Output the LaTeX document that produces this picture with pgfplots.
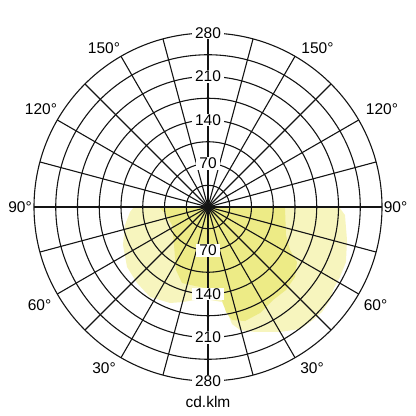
\documentclass[border=0pt]{standalone}
\usepackage{fontspec}
\setmainfont{Liberation Sans}
\usepackage{pgfplots}
\pgfplotsset{compat=1.18}
\definecolor{lightyel}{RGB}{247,245,190}
\definecolor{darkyel}{RGB}{237,235,134}
\definecolor{gridc}{RGB}{20,20,20}
\begin{document}
\begin{tikzpicture}[font=\fontsize{15.5bp}{18bp}\selectfont]
\path[use as bounding box] (0,0) rectangle (416bp,416bp);
\begin{axis}[at={(208bp,209bp)}, anchor=center,
  scale only axis, width=348bp, height=348bp,
  xmin=-280, xmax=280, ymin=-280, ymax=280,
  hide axis, clip=false]
% C0-C180 plane (outer, pale)
\addplot[fill=lightyel, draw=none] coordinates {
(-120.7,-2) (212.4,-2) (220.4,-12.9) (223.7,-53.1) (222.0,-88.5) (212.4,-112.6)
(202.7,-130.3) (196.3,-149.6) (183.4,-168.9) (168.9,-181.8) (148.0,-196.3)
(115.8,-201.1) (75.6,-201.1) (51.5,-197.9) (38.6,-188.3) (30.6,-168.9)
(22.5,-152.9) (3.2,-149.6) (-20.9,-149.6) (-40.2,-152.9) (-61.1,-154.5)
(-93.3,-144.8) (-114.2,-122.3) (-130.3,-96.5) (-136.8,-61.1) (-133.6,-29.0)
(-125.5,-8.0)} -- cycle;
% C90-C270 plane (inner, darker)
\addplot[fill=darkyel, draw=none] coordinates {
(-77.2,-2) (123.9,-2) (125.5,-45.1) (132.0,-69.2) (143.2,-88.5) (140.0,-112.6)
(125.5,-133.6) (104.6,-149.7) (83.7,-170.6) (59.5,-183.5) (38.6,-181.9)
(29.0,-169.0) (22.5,-149.7) (3.2,-132.0) (-20.9,-127.1) (-41.8,-122.3)
(-51.5,-101.4) (-54.7,-61.2) (-57.9,-29.0) (-69.2,-9.7)} -- cycle;
% grid
\pgfplotsinvokeforeach{35,70,105,140,175,210,245,280}{
  \draw[gridc, line width=1.1bp] (axis cs:0,0) circle[radius=#1];
}
\pgfplotsinvokeforeach{0,15,30,45,60,75,90,105,120,135,150,165}{
  \draw[gridc, line width=1.1bp] (axis cs:{-280*cos(#1)},{-280*sin(#1)}) -- (axis cs:{280*cos(#1)},{280*sin(#1)});
}
\fill[gridc] (axis cs:0,0) circle[radius=7];
% radial labels
\pgfplotsinvokeforeach{70,140,210,280}{
  \node[fill=white, inner xsep=3bp, inner ysep=1bp] at (axis cs:0,#1) {#1};
  \node[fill=white, inner xsep=3bp, inner ysep=1bp] at (axis cs:0,-#1) {#1};
}
\end{axis}
\node at (104bp,368bp) {150°};
\node at (317.5bp,368bp) {150°};
\node at (41bp,307bp) {120°};
\node at (382bp,307bp) {120°};
\node at (20bp,209bp) {90°};
\node at (395.5bp,209bp) {90°};
\node at (39.5bp,111bp) {60°};
\node at (375.5bp,111bp) {60°};
\node at (104bp,48bp) {30°};
\node at (312bp,48bp) {30°};
\node at (208bp,14bp) {cd.klm};
\end{tikzpicture}
\end{document}
